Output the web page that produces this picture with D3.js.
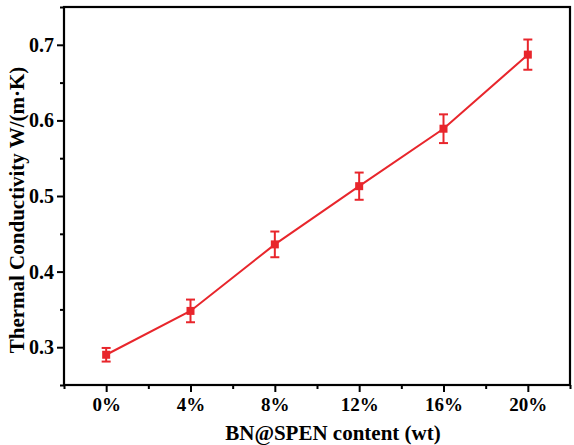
<!DOCTYPE html>
<html>
<head>
<meta charset="utf-8">
<script src="https://cdn.jsdelivr.net/npm/d3@7"></script>
<style>
    body { margin: 0; background: #fff; }
    text { font-family: "Liberation Serif", "Times New Roman", serif; font-weight: bold; fill: #000; }
</style>
</head>
<body>
<div id="chart"></div>
<script>
const contents = [0, 4, 8, 12, 16, 20];
const conductivity = [0.290, 0.348, 0.436, 0.513, 0.589, 0.687];
const errors = [0.009, 0.015, 0.017, 0.018, 0.019, 0.020];
const yTicks = [0.3, 0.4, 0.5, 0.6, 0.7];
const xTicks = [0, 4, 8, 12, 16, 20];

const W = 574, H = 445;
const margin = { top: 7, right: 4, bottom: 60, left: 64 },
    width = W - margin.left - margin.right,
    height = H - margin.top - margin.bottom;

const svg = d3.select("#chart").append("svg")
    .attr("width", W)
    .attr("height", H);

const g = svg.append("g")
    .attr("transform", `translate(${margin.left},${margin.top})`);

const x = d3.scaleLinear().domain([-2, 22]).range([0, width]);
const y = d3.scaleLinear().domain([0.25, 0.75]).range([height, 0]);

// minor ticks first, majors on top
g.append("g")
    .attr("transform", `translate(0,${height})`)
    .call(d3.axisBottom(x).tickValues([-2, 2, 6, 10, 14, 18, 22]).tickSize(4).tickFormat(""))
    .call(a => a.select(".domain").remove())
    .selectAll("line").attr("stroke-width", 2);

g.append("g")
    .call(d3.axisLeft(y).tickValues([0.25, 0.35, 0.45, 0.55, 0.65, 0.75]).tickSize(4).tickFormat(""))
    .call(a => a.select(".domain").remove())
    .selectAll("line").attr("stroke-width", 2);

const xAxis = g.append("g")
    .attr("transform", `translate(0,${height})`)
    .call(d3.axisBottom(x).tickValues(xTicks).tickSize(7).tickPadding(6).tickFormat(d => d + "%"));
xAxis.select(".domain").remove();
xAxis.selectAll("line").attr("stroke-width", 2);
xAxis.selectAll("text").attr("font-size", 19).attr("font-family", "Liberation Serif").attr("font-weight", "bold");

const yAxis = g.append("g")
    .call(d3.axisLeft(y).tickValues(yTicks).tickSize(7).tickPadding(3).tickFormat(d3.format(".1f")));
yAxis.select(".domain").remove();
yAxis.selectAll("line").attr("stroke-width", 2);
yAxis.selectAll("text").attr("font-size", 20).attr("font-family", "Liberation Serif").attr("font-weight", "bold");

// frame
g.append("rect")
    .attr("width", width)
    .attr("height", height)
    .attr("fill", "none")
    .attr("stroke", "#000")
    .attr("stroke-width", 2.2);

const red = "#e8262c";
const data = contents.map((c, i) => ({ c, v: conductivity[i], e: errors[i] }));

g.append("path")
    .datum(data)
    .attr("fill", "none")
    .attr("stroke", red)
    .attr("stroke-width", 2)
    .attr("d", d3.line().x(d => x(d.c)).y(d => y(d.v)));

const bars = g.selectAll(".err").data(data).enter().append("g").attr("class", "err");
bars.append("line")
    .attr("x1", d => x(d.c)).attr("x2", d => x(d.c))
    .attr("y1", d => y(d.v - d.e)).attr("y2", d => y(d.v + d.e))
    .attr("stroke", red).attr("stroke-width", 2);
bars.append("line")
    .attr("x1", d => x(d.c) - 4.5).attr("x2", d => x(d.c) + 4.5)
    .attr("y1", d => y(d.v + d.e)).attr("y2", d => y(d.v + d.e))
    .attr("stroke", red).attr("stroke-width", 2);
bars.append("line")
    .attr("x1", d => x(d.c) - 4.5).attr("x2", d => x(d.c) + 4.5)
    .attr("y1", d => y(d.v - d.e)).attr("y2", d => y(d.v - d.e))
    .attr("stroke", red).attr("stroke-width", 2);
bars.append("rect")
    .attr("x", d => x(d.c) - 4).attr("y", d => y(d.v) - 4)
    .attr("width", 8).attr("height", 8)
    .attr("fill", red);

svg.append("text")
    .attr("x", 333)
    .attr("y", 440)
    .attr("text-anchor", "middle")
    .attr("font-size", 21)
    .text("BN@SPEN content (wt)");

svg.append("text")
    .attr("transform", `translate(24,${210}) rotate(-90)`)
    .attr("text-anchor", "middle")
    .attr("font-size", 21)
    .text("Thermal Conductivity W/(m·K)");
</script>
</body>
</html>
